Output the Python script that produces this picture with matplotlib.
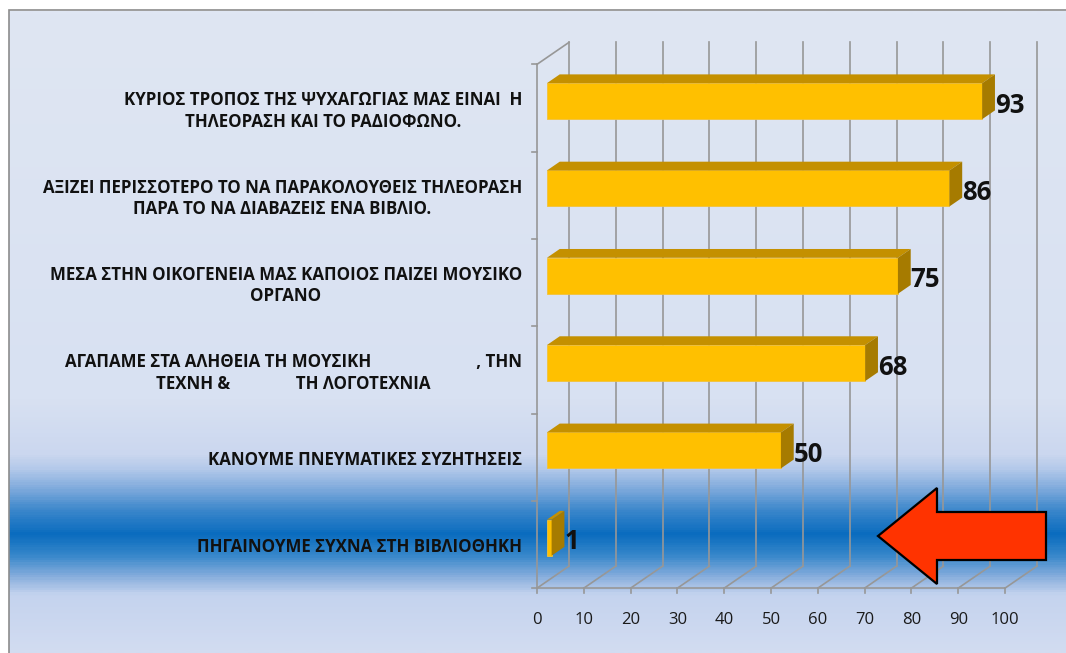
import numpy as np
import matplotlib
matplotlib.use("Agg")
import matplotlib.pyplot as plt
from matplotlib.patches import Polygon, Rectangle
from matplotlib.colors import LinearSegmentedColormap
import matplotlib.transforms as mtransforms

plt.rcParams['font.family'] = ['Open Sans', 'DejaVu Sans']

# ---------------- data ----------------
categories = [
    "ΚΥΡΙΟΣ ΤΡΟΠΟΣ ΤΗΣ ΨΥΧΑΓΩΓΙΑΣ ΜΑΣ ΕΙΝΑΙ  Η\nΤΗΛΕΟΡΑΣΗ ΚΑΙ ΤΟ ΡΑΔΙΟΦΩΝΟ.",
    "ΑΞΙΖΕΙ ΠΕΡΙΣΣΟΤΕΡΟ ΤΟ ΝΑ ΠΑΡΑΚΟΛΟΥΘΕΙΣ ΤΗΛΕΟΡΑΣΗ\nΠΑΡΑ ΤΟ ΝΑ ΔΙΑΒΑΖΕΙΣ ΕΝΑ ΒΙΒΛΙΟ.",
    "ΜΕΣΑ ΣΤΗΝ ΟΙΚΟΓΕΝΕΙΑ ΜΑΣ ΚΑΠΟΙΟΣ ΠΑΙΖΕΙ ΜΟΥΣΙΚΟ\nΟΡΓΑΝΟ",
    "ΑΓΑΠΑΜΕ ΣΤΑ ΑΛΗΘΕΙΑ ΤΗ ΜΟΥΣΙΚΗ" + " " * 24 + ", ΤΗΝ\nΤΕΧΝΗ &" + " " * 15 + "ΤΗ ΛΟΓΟΤΕΧΝΙΑ",
    "ΚΑΝΟΥΜΕ ΠΝΕΥΜΑΤΙΚΕΣ ΣΥΖΗΤΗΣΕΙΣ",
    "ΠΗΓΑΙΝΟΥΜΕ ΣΥΧΝΑ ΣΤΗ ΒΙΒΛΙΟΘΗΚΗ",
]
values = [93, 86, 75, 68, 50, 1]
xticks = [0, 10, 20, 30, 40, 50, 60, 70, 80, 90, 100]

# ---------------- geometry (pixel-based layout) ----------------
W, H = 1066, 653
XS = 4.68          # px per value unit
X0 = 537           # px of value 0 on front plane
YS = 87.3          # px per category
Y0 = 108           # px of first category center on front plane
DX = 32 / XS       # depth offset in value units
DY = -22 / YS      # depth offset in category units

fig = plt.figure(figsize=(W / 100, H / 100), dpi=100)
fig.patch.set_facecolor('white')

# background gradient
bg = fig.add_axes([9 / W, 0, 1 - 9 / W, (H - 11) / H])
stops = [(11, '#dfe6f3'), (400, '#d8e1f2'), (455, '#cbd7ef'), (470, '#b3c9ea'),
         (490, '#7eaadc'), (512, '#3a86cb'), (535, '#0a6cbf'), (556, '#3586ca'),
         (577, '#84acdc'), (596, '#c4d3ee'), (653, '#d2dcf1')]
pos = [(p - 11) / (653 - 11) for p, c in stops]
cmap = LinearSegmentedColormap.from_list('bgc', list(zip(pos, [c for p, c in stops])))
grad = np.linspace(0, 1, 600).reshape(-1, 1)
bg.imshow(grad, aspect='auto', cmap=cmap, extent=[0, 1, 1, 0])
bg.set_xlim(0, 1); bg.set_ylim(1, 0)
bg.axis('off')

# frame line
fig.add_artist(Rectangle((8.5 / W, -0.1), 1.2, 1 - 10.5 / H + 0.1, transform=fig.transFigure,
                         fill=False, edgecolor='#8c8c8c', lw=1.2))

ax = fig.add_axes([0, 0, 1, 1])
ax.patch.set_alpha(0)
ax.set_xlim(-X0 / XS, (W - X0) / XS)
ax.set_ylim((H - Y0) / YS, -Y0 / YS)
ax.axis('off')

n = len(values)
cats = np.arange(n)
gc = '#979797'
glw = 1.2
top_c = -0.5
bot_c = n - 0.5

# grid / walls
for t in xticks:
    ax.plot([t + DX, t + DX], [top_c + DY, bot_c + DY], color=gc, lw=glw, zorder=1)
    ax.plot([t, t + DX], [bot_c, bot_c + DY], color=gc, lw=glw, zorder=1)
    ax.plot([t, t], [bot_c, bot_c + 5 / YS], color=gc, lw=glw, zorder=1)
    ax.text(t, (620 - Y0) / YS, str(t), ha='center', va='center', fontsize=12,
            color='#1a1a1a')
ax.plot([0, xticks[-1]], [bot_c, bot_c], color=gc, lw=glw, zorder=1)
ax.plot([0, 0], [top_c, bot_c], color=gc, lw=glw, zorder=1)
ax.plot([0, DX], [top_c, top_c + DY], color=gc, lw=glw, zorder=1)
for b in np.arange(top_c, bot_c + 0.01, 1.0):
    ax.plot([-5 / XS, 0], [b, b], color=gc, lw=glw, zorder=1)

# bars (3D look)
f0 = 0.31      # depth of front face
bd = 0.40      # bar depth fraction
bh = 36 / YS   # bar height
left = f0 * DX
yc = cats + f0 * DY
front_c, top_col, side_col = '#ffc000', '#c49000', '#a67b00'
ax.barh(yc, values, left=left, height=bh, color=front_c, edgecolor='#f2c23a',
        linewidth=0.6, zorder=3)
bdx, bdy = bd * DX, bd * DY
for y, v in zip(yc, values):
    yt, yb = y - bh / 2, y + bh / 2
    xr = left + v
    ax.add_patch(Polygon([(left, yt), (xr, yt), (xr + bdx, yt + bdy), (left + bdx, yt + bdy)],
                         closed=True, facecolor=top_col, edgecolor='none', zorder=3))
    ax.add_patch(Polygon([(xr, yt), (xr, yb), (xr + bdx, yb + bdy), (xr + bdx, yt + bdy)],
                         closed=True, facecolor=side_col, edgecolor='none', zorder=3))
    ax.text(xr + bdx, y + 4 / YS, f"{v}", ha='left', va='center', fontsize=18.5,
            fontweight='bold', color='#111111', zorder=5)

# category labels
for c, lab in zip(cats, categories):
    ax.text((522 - X0) / XS, c + 3 / YS, lab, ha='right', va='center', ma='center',
            fontsize=12.2, fontweight='bold', color='#111111', linespacing=1.25)

# red arrow annotation
pxT = mtransforms.Affine2D().scale(1 / W, -1 / H).translate(0, 1) + fig.transFigure
arrow_pts = [(878, 536), (937, 488), (937, 512), (1046, 512), (1046, 560), (937, 560), (937, 584)]
fig.add_artist(Polygon(arrow_pts, closed=True, facecolor='#ff3300', edgecolor='black',
                       lw=1.6, transform=pxT, zorder=10))

fig.savefig('out.png', dpi=100)
